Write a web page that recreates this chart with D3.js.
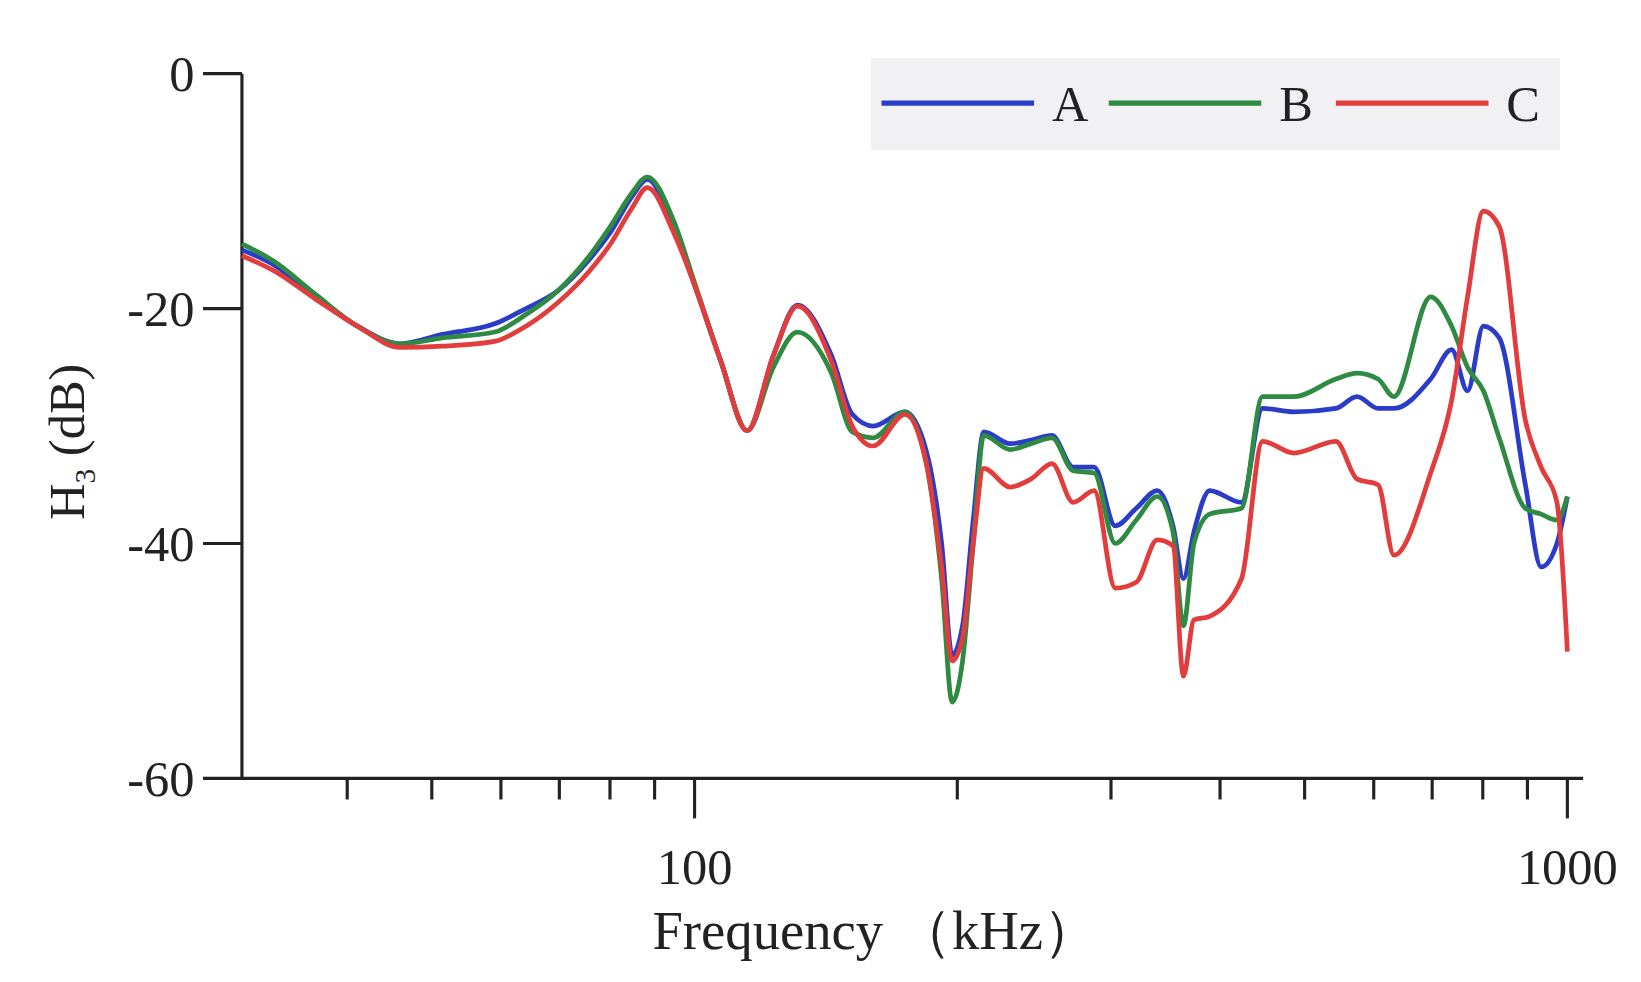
<!DOCTYPE html>
<html>
<head>
<meta charset="utf-8">
<script src="https://cdn.jsdelivr.net/npm/d3@7"></script>
<style>
  body { margin: 0; background: #fff; }
  text { font-family: "Liberation Serif", "DejaVu Serif", serif; fill: #222; }
</style>
</head>
<body>
<svg id="chart" width="1641" height="982"></svg>
<script>
// frequencies (kHz) shared by all series
const freq = [30.3, 33, 36.8, 41.1, 46, 51.4, 59, 64.1, 69.7, 75.8, 80.1, 84.7, 88.3, 94.6, 100,
  107.2, 114.9, 123.1, 131.2, 143.5, 151.6, 160.2, 174.2, 184.1, 191.9, 197.3, 202.8, 208.6, 214.5,
  229.9, 243, 256.8, 271.5, 287, 303.4, 320.7, 338.9, 353.3, 363.2, 373.4, 389.2, 423.3, 447.5,
  486.1, 543, 574.1, 606.9, 632.8, 697.2, 736.9, 768.5, 801.3, 835.4, 895.1, 933.2, 972.8, 1000];

const seriesA = [-15, -16.3, -19, -21.5, -23, -22.2, -21.3, -20, -18.5, -15.8, -13.5, -10.5, -9, -13, -18,
  -24.5, -30.4, -24, -19.7, -24, -29, -30, -28.8, -32, -40, -49.5, -47, -38, -30.5,
  -31.5, -31.2, -30.8, -33.5, -33.5, -38.5, -37, -35.5, -38.5, -43, -39, -35.5, -36.5, -28.5,
  -28.8, -28.5, -27.5, -28.5, -28.5, -26, -23.5, -27, -21.5, -22.5, -35, -42, -40, -36];

const seriesB = [-14.5, -16, -18.8, -21.5, -23, -22.5, -22, -20.5, -18.5, -15.5, -13, -10.2, -8.8, -12.5, -17.8,
  -24.5, -30.4, -25, -22, -25.5, -30.5, -31, -28.8, -33, -43, -53.5, -50, -40, -30.8,
  -32, -31.5, -31, -33.8, -34, -40, -38, -36, -39, -47, -40, -37.5, -37, -27.5,
  -27.5, -26, -25.5, -26, -27.5, -19, -21.5, -25, -27, -31, -37, -37.5, -38, -36];

const seriesC = [-15.5, -16.8, -19.2, -21.5, -23.3, -23.2, -22.8, -21.5, -19.5, -16.8, -14.5, -11.5, -9.7, -13.5, -18,
  -24.5, -30.4, -24, -19.8, -24.5, -30, -31.7, -29, -33, -42, -50, -48, -40, -33.6,
  -35.2, -34.5, -33.2, -36.5, -35.5, -43.8, -43.3, -39.7, -40.2, -51.3, -46.5, -46.2, -43, -31.3,
  -32.3, -31.3, -34.5, -35, -41, -34, -27.8, -19, -11.7, -13, -29.5, -33.5, -36.5, -49.2];

const seriesNames = ["A", "B", "C"];
const seriesColors = ["#2a3cc8", "#2f8a42", "#e23c3c"];
const yTicks = [0, -20, -40, -60];
const xMinorTicks = [40, 50, 60, 70, 80, 90, 200, 300, 400, 500, 600, 700, 800, 900];

// layout was measured on a 1560-wide copy; scale up to the page
const svg = d3.select("#chart").append("g").attr("transform", `scale(${1641 / 1560})`);
const x = d3.scaleLog().domain([30.3, 1000]).range([230, 1490]);
const y = d3.scaleLinear().domain([-60, 0]).range([740, 70]);

// axes
const g = svg.append("g");
g.append("line").attr("x1", 230).attr("x2", 1505).attr("y1", 740).attr("y2", 740)
  .attr("stroke", "#222").attr("stroke-width", 3);
g.append("line").attr("x1", 230).attr("x2", 230).attr("y1", 70).attr("y2", 740)
  .attr("stroke", "#222").attr("stroke-width", 3);

yTicks.forEach(v => {
  g.append("line").attr("x1", 193).attr("x2", 230).attr("y1", y(v)).attr("y2", y(v))
    .attr("stroke", "#222").attr("stroke-width", 3);
  g.append("text").attr("x", 185).attr("y", y(v)).attr("dy", "0.35em")
    .attr("text-anchor", "end").attr("font-size", 48).text(v);
});

[100, 1000].forEach(v => {
  g.append("line").attr("x1", x(v)).attr("x2", x(v)).attr("y1", 740).attr("y2", 778)
    .attr("stroke", "#222").attr("stroke-width", 3);
  g.append("text").attr("x", x(v)).attr("y", 840).attr("text-anchor", "middle")
    .attr("font-size", 48).text(v);
});
xMinorTicks.forEach(v => {
  g.append("line").attr("x1", x(v)).attr("x2", x(v)).attr("y1", 740).attr("y2", 760)
    .attr("stroke", "#222").attr("stroke-width", 3);
});

g.append("text").attr("x", 832).attr("y", 902).attr("text-anchor", "middle")
  .attr("font-size", 52).text("Frequency （kHz）");

const yl = g.append("text").attr("transform", "translate(80,420) rotate(-90)")
  .attr("text-anchor", "middle").attr("font-size", 48);
yl.append("tspan").text("H");
yl.append("tspan").attr("font-size", 28).attr("dy", 10).text("3");
yl.append("tspan").attr("dy", -10).text(" (dB)");

// lines
const line = d3.line().x((d, i) => x(freq[i])).y(d => y(d)).curve(d3.curveMonotoneX);
[seriesA, seriesB, seriesC].forEach((s, k) => {
  svg.append("path").datum(s).attr("d", line).attr("fill", "none")
    .attr("stroke", seriesColors[k]).attr("stroke-width", 4.5);
});

// legend
const lg = svg.append("g");
lg.append("rect").attr("x", 828).attr("y", 55).attr("width", 655).attr("height", 88)
  .attr("fill", "#f1f0f3");
seriesNames.forEach((n, k) => {
  const x0 = 838 + k * 216;
  lg.append("line").attr("x1", x0).attr("x2", x0 + 145).attr("y1", 98).attr("y2", 98)
    .attr("stroke", seriesColors[k]).attr("stroke-width", 5);
  lg.append("text").attr("x", x0 + 162).attr("y", 98).attr("dy", "0.35em")
    .attr("font-size", 48).text(n);
});
</script>
</body>
</html>
